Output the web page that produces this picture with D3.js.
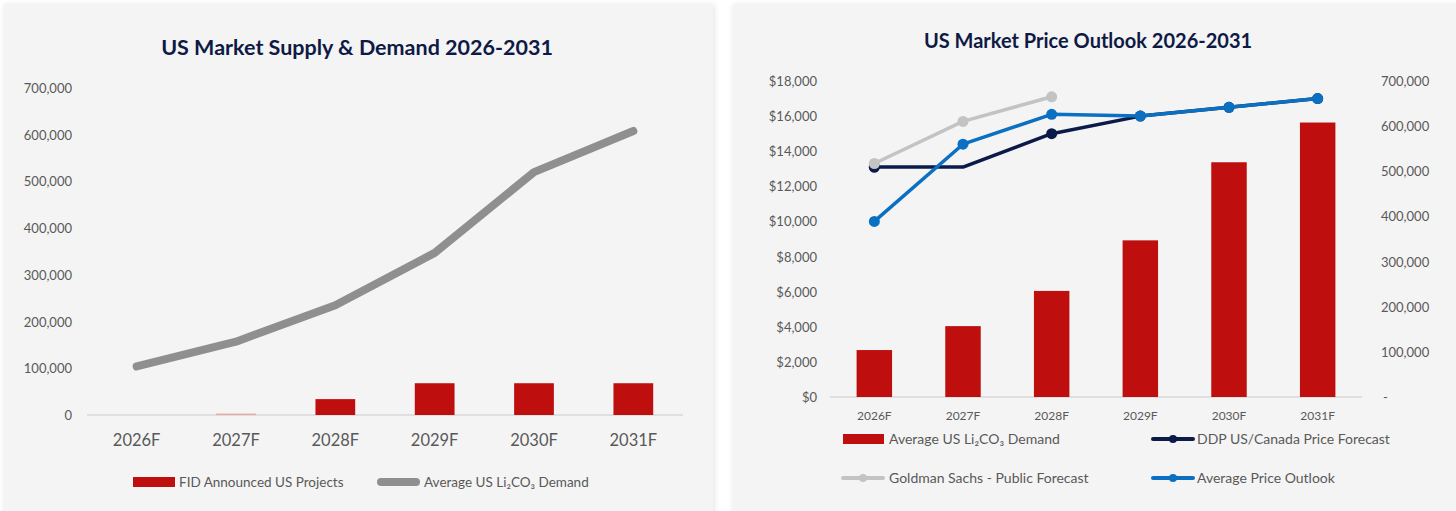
<html>
<head>
<meta charset="utf-8">
<script src="https://cdn.jsdelivr.net/npm/d3@7"></script>
<style>
  body { margin: 0; background: #fff; }
  text { font-family: Lato, "Open Sans", sans-serif; }
  .tick-label { fill: #595959; font-size: 13px; }
  .title { fill: #0e1a45; font-weight: bold; font-size: 20px; }
  .legend { fill: #595959; font-size: 13.5px; }
</style>
</head>
<body>
<svg id="chart" width="1456" height="511"></svg>
<script>

// categories
var years = ["2026F", "2027F", "2028F", "2029F", "2030F", "2031F"];

// left chart: supply vs demand (t Li2CO3)
var fidProjects = [0, 3000, 34000, 68000, 68000, 68000];
var usDemand = [104000, 157000, 235000, 347000, 520000, 608000];
var supplyTicks = [0, 100000, 200000, 300000, 400000, 500000, 600000, 700000];

// right chart: price outlook ($/t)
var ddpPrice = [13100, 13100, 15000, 16000, 16500, 17000];
var goldmanPrice = [13300, 15700, 17100, null, null, null];
var avgPrice = [10000, 14400, 16100, 16000, 16500, 17000];
var priceTicks = [0, 2000, 4000, 6000, 8000, 10000, 12000, 14000, 16000, 18000];
var demandTicks = [0, 100000, 200000, 300000, 400000, 500000, 600000, 700000];

var red = "#be0e0e",
    gray = "#8f8f8f",
    navy = "#0b1a48",
    lightGray = "#c3c3c3",
    blue = "#0b70c2";

var svg = d3.select("#chart");

var defs = svg.append("defs");
defs.append("filter").attr("id", "shadow")
  .attr("x", "-5%").attr("y", "-5%").attr("width", "110%").attr("height", "110%")
  .append("feDropShadow")
  .attr("dx", 1).attr("dy", 1).attr("stdDeviation", 3)
  .attr("flood-color", "#000").attr("flood-opacity", 0.12);

// panels
svg.append("rect").attr("x", 4).attr("y", 4).attr("width", 709).attr("height", 520)
  .attr("fill", "#f4f4f4").attr("filter", "url(#shadow)");
svg.append("rect").attr("x", 733).attr("y", 4).attr("width", 740).attr("height", 520)
  .attr("fill", "#f4f4f4").attr("filter", "url(#shadow)");

var comma = d3.format(",");

/*
* Left chart
*/
var left = svg.append("g");

var x1 = d3.scaleBand().domain(years).range([87, 683]).paddingInner(0.6).paddingOuter(0.3);
var y1 = d3.scaleLinear().domain([0, 700000]).range([415, 88]);

left.append("text").attr("class", "title").style("font-size", "21.5px")
  .attr("x", 357).attr("y", 55).attr("text-anchor", "middle")
  .text("US Market Supply & Demand 2026-2031");

left.selectAll(".ytick").data(supplyTicks).enter().append("text")
  .attr("class", "tick-label")
  .attr("x", 72).attr("y", function(d){ return y1(d) + 5; })
  .attr("text-anchor", "end")
  .text(function(d){ return comma(d); });

left.append("line")
  .attr("x1", 87).attr("x2", 683).attr("y1", y1(0)).attr("y2", y1(0))
  .attr("stroke", "#d9d9d9").attr("stroke-width", 1.5);

left.selectAll(".bar").data(fidProjects).enter().append("rect")
  .attr("x", function(d, i){ return x1(years[i]); })
  .attr("width", x1.bandwidth())
  .attr("y", function(d){ return y1(d); })
  .attr("height", function(d){ return y1(0) - y1(d); })
  .attr("fill", function(d){ return d < 5000 ? "#e8a9a4" : red; });

var line1 = d3.line()
  .x(function(d, i){ return x1(years[i]) + x1.bandwidth() / 2; })
  .y(function(d){ return y1(d); });

left.append("path").datum(usDemand)
  .attr("d", line1)
  .attr("fill", "none").attr("stroke", gray).attr("stroke-width", 8)
  .attr("stroke-linecap", "round").attr("stroke-linejoin", "round");

left.selectAll(".xtick").data(years).enter().append("text")
  .attr("class", "tick-label").style("font-size", "16.5px")
  .attr("x", function(d){ return x1(d) + x1.bandwidth() / 2; })
  .attr("y", 446).attr("text-anchor", "middle")
  .text(function(d){ return d; });

// legend
left.append("rect").attr("x", 133).attr("y", 477).attr("width", 42).attr("height", 10).attr("fill", red);
left.append("text").attr("class", "legend").attr("x", 179).attr("y", 487).text("FID Announced US Projects");
left.append("line").attr("x1", 381).attr("x2", 416).attr("y1", 482).attr("y2", 482)
  .attr("stroke", gray).attr("stroke-width", 8).attr("stroke-linecap", "round");
left.append("text").attr("class", "legend").attr("x", 424).attr("y", 487).text("Average US Li\u2082CO\u2083 Demand");

/*
* Right chart
*/
var right = svg.append("g");

var x2 = d3.scaleBand().domain(years).range([830, 1362]).paddingInner(0.6).paddingOuter(0.3);
var yL = d3.scaleLinear().domain([0, 18000]).range([397, 81]);
var yR = d3.scaleLinear().domain([0, 700000]).range([397, 81]);

right.append("text").attr("class", "title")
  .attr("x", 1088).attr("y", 48).attr("text-anchor", "middle")
  .text("US Market Price Outlook 2026-2031");

right.selectAll(".ytickL").data(priceTicks).enter().append("text")
  .attr("class", "tick-label")
  .attr("x", 817).attr("y", function(d){ return yL(d) + 5; })
  .attr("text-anchor", "end")
  .text(function(d){ return "$" + comma(d); });

right.selectAll(".ytickR").data(demandTicks).enter().append("text")
  .attr("class", "tick-label")
  .attr("x", function(d){ return d === 0 ? 1383 : 1381; })
  .attr("y", function(d){ return yR(d) + 5; })
  .text(function(d){ return d === 0 ? "-" : comma(d); });

right.append("line")
  .attr("x1", 830).attr("x2", 1362).attr("y1", yL(0)).attr("y2", yL(0))
  .attr("stroke", "#d9d9d9").attr("stroke-width", 1.5);

right.selectAll(".bar").data(usDemand).enter().append("rect")
  .attr("x", function(d, i){ return x2(years[i]); })
  .attr("width", x2.bandwidth())
  .attr("y", function(d){ return yR(d); })
  .attr("height", function(d){ return yR(0) - yR(d); })
  .attr("fill", red);

var line2 = d3.line()
  .defined(function(d){ return d !== null; })
  .x(function(d, i){ return x2(years[i]) + x2.bandwidth() / 2; })
  .y(function(d){ return yL(d); });

function priceSeries(data, color){
  right.append("path").datum(data)
    .attr("d", line2)
    .attr("fill", "none").attr("stroke", color).attr("stroke-width", 3.5)
    .attr("stroke-linejoin", "round");
  right.selectAll(null).data(data).enter()
    .filter(function(d){ return d !== null; })
    .append("circle")
    .attr("cx", function(d){ return x2(years[data.indexOf(d)]) + x2.bandwidth() / 2; })
    .attr("cy", function(d){ return yL(d); })
    .attr("r", 5.5)
    .attr("fill", color);
}

priceSeries(ddpPrice, navy);
priceSeries(goldmanPrice, lightGray);
priceSeries(avgPrice, blue);

right.selectAll(".xtick").data(years).enter().append("text")
  .attr("class", "tick-label").style("font-size", "12px")
  .attr("x", function(d){ return x2(d) + x2.bandwidth() / 2; })
  .attr("y", 420).attr("text-anchor", "middle")
  .text(function(d){ return d; });

// legend
function lineKey(x, y, color){
  right.append("line").attr("x1", x).attr("x2", x + 40).attr("y1", y).attr("y2", y)
    .attr("stroke", color).attr("stroke-width", 4).attr("stroke-linecap", "round");
  right.append("circle").attr("cx", x + 20).attr("cy", y).attr("r", 4).attr("fill", color);
}

right.append("rect").attr("x", 843).attr("y", 434).attr("width", 41).attr("height", 10).attr("fill", red);
right.append("text").attr("class", "legend").style("font-size", "14px").attr("x", 889).attr("y", 444).text("Average US Li\u2082CO\u2083 Demand");
lineKey(1153, 439, navy);
right.append("text").attr("class", "legend").style("font-size", "14px").attr("x", 1197).attr("y", 444).text("DDP US/Canada Price Forecast");
lineKey(843, 478, lightGray);
right.append("text").attr("class", "legend").style("font-size", "14px").attr("x", 889).attr("y", 483).text("Goldman Sachs - Public Forecast");
lineKey(1153, 478, blue);
right.append("text").attr("class", "legend").style("font-size", "14px").attr("x", 1197).attr("y", 483).text("Average Price Outlook");

</script>
</body>
</html>
